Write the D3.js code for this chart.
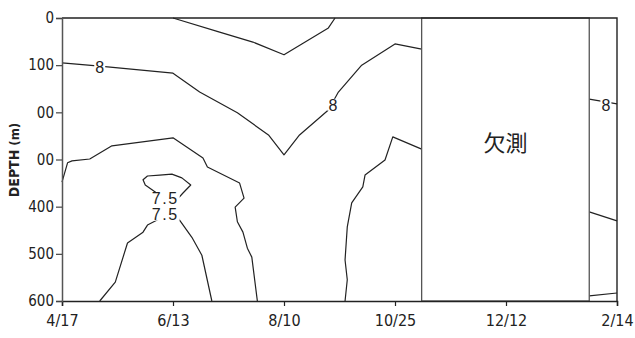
<!DOCTYPE html>
<html>
<head>
<meta charset="utf-8">
<script src="https://cdn.jsdelivr.net/npm/d3@7"></script>
<style>
  body { margin: 0; background: #fff; }
  svg { display: block; }
  .tick-label { font-family: "DejaVu Sans Condensed", "DejaVu Sans", sans-serif; fill: #222; }
  .clabel { font-family: "Liberation Sans", Arial, sans-serif; font-size: 16px; fill: #222; }
</style>
</head>
<body>
<svg id="chart" width="635" height="338"></svg>
<script>
const dateLabels = ["4/17", "6/13", "8/10", "10/25", "12/12", "2/14"];
const depthTicks = [0, 100, 200, 300, 400, 500, 600];
const depthLabels = ["0", "100", "00", "00", "400", "500", "600"];

// missing observation period, in date-index units
const gapRange = [3.24, 4.75];

// contour lines: [date index, depth m]
const lineTop = [[1.0, 0], [1.42, 30], [1.72, 51], [2.0, 78], [2.40, 21], [2.46, 0]];
const line8 = [[0, 95], [0.34, 102], [1.0, 117], [1.24, 157], [1.58, 201], [1.86, 248], [2.0, 290],
  [2.14, 248], [2.40, 195], [2.49, 157], [2.70, 100], [3.0, 55], [3.24, 66]];
const lineMidLeft = [[0, 348], [0.05, 307], [0.09, 303], [0.25, 299], [0.45, 271], [1.0, 254],
  [1.27, 297], [1.31, 316], [1.60, 350], [1.64, 382], [1.56, 401], [1.58, 432], [1.63, 454],
  [1.67, 488], [1.71, 507], [1.76, 600]];
const lineMidRight = [[2.55, 600], [2.57, 555], [2.55, 513], [2.57, 443], [2.61, 392], [2.71, 358],
  [2.73, 333], [2.91, 301], [2.98, 252], [3.24, 278]];
const line75Loop = [[0.84, 369], [0.75, 354], [0.73, 343], [0.77, 335], [0.88, 333], [0.99, 331],
  [1.08, 339], [1.16, 354], [1.09, 371], [1.04, 384], [0.93, 384], [0.84, 369]];
const line75 = [[0.34, 600], [0.48, 560], [0.59, 477], [0.73, 454], [0.77, 439], [0.91, 422],
  [1.04, 422], [1.17, 465], [1.26, 503], [1.35, 600]];
const lineR8 = [[4.75, 172], [5.0, 182]];
const lineRMid = [[4.75, 411], [5.0, 430]];
const lineRLow = [[4.75, 589], [5.0, 583]];

const contours = [lineTop, line8, lineMidLeft, lineMidRight, line75Loop, line75, lineR8, lineRMid, lineRLow];

const contourLabels = [
  {text: "8", x: 0.34, d: 104},
  {text: "8", x: 2.44, d: 184},
  {text: "7.5", x: 0.93, d: 382},
  {text: "7.5", x: 0.93, d: 417},
  {text: "8", x: 4.90, d: 184}
];

const svg = d3.select("#chart");
const x = d3.scaleLinear().domain([0, dateLabels.length - 1]).range([62, 617]);
const y = d3.scaleLinear().domain([0, 600]).range([18, 301]);

const line = d3.line().x(d => x(d[0])).y(d => y(d[1]));

svg.append("g").selectAll("path").data(contours).enter().append("path")
  .attr("d", line)
  .attr("fill", "none")
  .attr("stroke", "#222")
  .attr("stroke-width", 1.2)
  .attr("stroke-linejoin", "round");

// white patches that break the lines under the labels
const labels = svg.append("g").selectAll("g").data(contourLabels).enter().append("g")
  .attr("transform", d => `translate(${x(d.x)},${y(d.d)})`);
labels.append("rect")
  .attr("x", d => -d.text.length * 4.5 - 1)
  .attr("y", -6)
  .attr("width", d => d.text.length * 9 + 2)
  .attr("height", 12)
  .attr("fill", "#fff");
labels.append("text")
  .classed("clabel", true)
  .attr("text-anchor", "middle")
  .attr("dy", "0.36em")
  .attr("letter-spacing", d => d.text.length > 1 ? 1.5 : 0)
  .text(d => d.text);

// missing data box
svg.append("rect")
  .attr("x", x(gapRange[0]))
  .attr("y", y(0))
  .attr("width", x(gapRange[1]) - x(gapRange[0]))
  .attr("height", y(600) - y(0))
  .attr("fill", "#fff")
  .attr("stroke", "#555")
  .attr("stroke-width", 1.3);

svg.append("text")
  .attr("x", (x(gapRange[0]) + x(gapRange[1])) / 2)
  .attr("y", 143)
  .attr("dy", "0.35em")
  .attr("text-anchor", "middle")
  .style("font-family", "'Noto Sans CJK JP', sans-serif")
  .style("font-size", "22px")
  .style("fill", "#222")
  .text("欠測");

// frame
svg.append("path")
  .attr("d", `M${x(0)},${y(0)}H${x(5)}V${y(600)}`)
  .attr("fill", "none")
  .attr("stroke", "#222")
  .attr("stroke-width", 1.4);

const xAxis = svg.append("g")
  .attr("transform", `translate(0,${y(600)})`)
  .call(d3.axisBottom(x).tickValues(d3.range(dateLabels.length)).tickFormat(i => dateLabels[i]).tickSize(5).tickPadding(9));
xAxis.select(".domain").attr("stroke", "#222").attr("stroke-width", 1.5);
xAxis.selectAll(".tick line").attr("stroke", "#222").attr("stroke-width", 1.2);
xAxis.selectAll(".tick text").classed("tick-label", true).attr("font-size", 16).attr("font-family", null);

const yAxis = svg.append("g")
  .attr("transform", `translate(${x(0)},0)`)
  .call(d3.axisLeft(y).tickValues(depthTicks).tickFormat((d, i) => depthLabels[i]).tickSize(6).tickPadding(2));
yAxis.select(".domain").attr("stroke", "#555").attr("stroke-width", 1.5);
yAxis.selectAll(".tick line").attr("stroke", "#444").attr("stroke-width", 1.2);
yAxis.selectAll(".tick text").classed("tick-label", true).attr("font-size", 15).attr("font-family", null);

const title = svg.append("text")
  .attr("transform", "translate(19,160) rotate(-90)")
  .attr("text-anchor", "middle")
  .attr("font-family", "'DejaVu Sans Condensed', sans-serif")
  .attr("fill", "#222");
title.append("tspan").attr("font-size", 14).attr("font-weight", "bold").text("DEPTH");
title.append("tspan").attr("font-size", 13).attr("font-weight", "bold").text(" (m)");
</script>
</body>
</html>
